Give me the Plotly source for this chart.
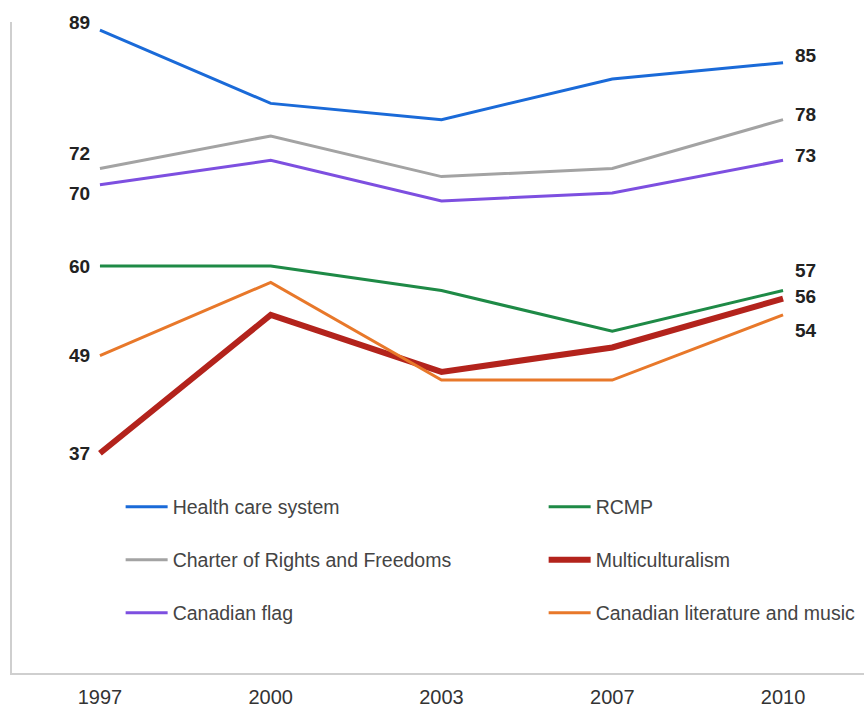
import plotly.graph_objects as go

years = ["1997", "2000", "2003", "2007", "2010"]
series_names = ["Health care system", "RCMP", "Charter of Rights and Freedoms",
                "Multiculturalism", "Canadian flag", "Canadian literature and music"]
health = [89, 80, 78, 83, 85]
rcmp = [60, 60, 57, 52, 57]
charter = [72, 76, 71, 72, 78]
multi = [37, 54, 47, 50, 56]
flag = [70, 73, 68, 69, 73]
litmusic = [49, 58, 46, 46, 54]
values = [health, rcmp, charter, multi, flag, litmusic]

colors = ["#1a6ad8", "#1e8a46", "#a3a3a3", "#b3231c", "#7d4fe0", "#e8782a"]
widths = [3, 3, 3, 6, 3, 3]
legend_ids = ["legend", "legend2", "legend3", "legend4", "legend5", "legend6"]
leg_pos = [(0.1275, 0.255), (0.624, 0.255), (0.1275, 0.1736), (0.624, 0.1736),
           (0.1275, 0.0922), (0.624, 0.0922)]
start_off = [(-8, 7.5), (-8, 0), (-8, 15), (-8, 0), (-8, -9), (-8, 0)]
end_off = [(10, 7), (10, 20), (10, 5), (10, 2), (10, 5), (10, -16)]

FONT = "Liberation Sans, Arial, sans-serif"

fig = go.Figure()
annotations = []
last = len(years) - 1
for name, vals, c, w, lg, so, eo in zip(series_names, values, colors, widths, legend_ids, start_off, end_off):
    fig.add_trace(go.Scatter(x=years, y=vals, mode="lines", name=name,
                             line=dict(color=c, width=w), legend=lg,
                             hoverinfo="x+y+name"))
    annotations.append(dict(x=0, y=vals[0], text="<b>%d</b>" % vals[0], showarrow=False,
                            xanchor="right", yanchor="middle", xshift=so[0], yshift=so[1],
                            font=dict(family=FONT, size=19, color="#222222"),
                            xref="x", yref="y"))
    annotations.append(dict(x=last, y=vals[-1], text="<b>%d</b>" % vals[-1], showarrow=False,
                            xanchor="left", yanchor="middle", xshift=eo[0], yshift=eo[1],
                            font=dict(family=FONT, size=19, color="#222222"),
                            xref="x", yref="y"))

layout_legends = {}
for lg, (lx, ly) in zip(legend_ids, leg_pos):
    layout_legends[lg] = dict(x=lx, y=ly, xanchor="left", yanchor="middle",
                              orientation="v", itemwidth=42, bgcolor="rgba(0,0,0,0)",
                              font=dict(family=FONT, size=19.5, color="#444444"))

fig.update_layout(
    width=864, height=709,
    margin=dict(l=12, r=0, t=22, b=36),
    paper_bgcolor="white", plot_bgcolor="white",
    showlegend=True,
    annotations=annotations,
    xaxis=dict(type="category", range=[-0.515, 4.474], showgrid=False, zeroline=False,
               showline=True, linecolor="#cfcfcf", linewidth=2, ticks="",
               ticklabelstandoff=5,
               tickfont=dict(family=FONT, size=20, color="#333333"), fixedrange=True),
    yaxis=dict(range=[10, 90], showgrid=False, zeroline=False, showticklabels=False,
               showline=True, linecolor="#cfcfcf", linewidth=2, ticks="", fixedrange=True),
    **layout_legends,
)

fig.write_html("out.html")
